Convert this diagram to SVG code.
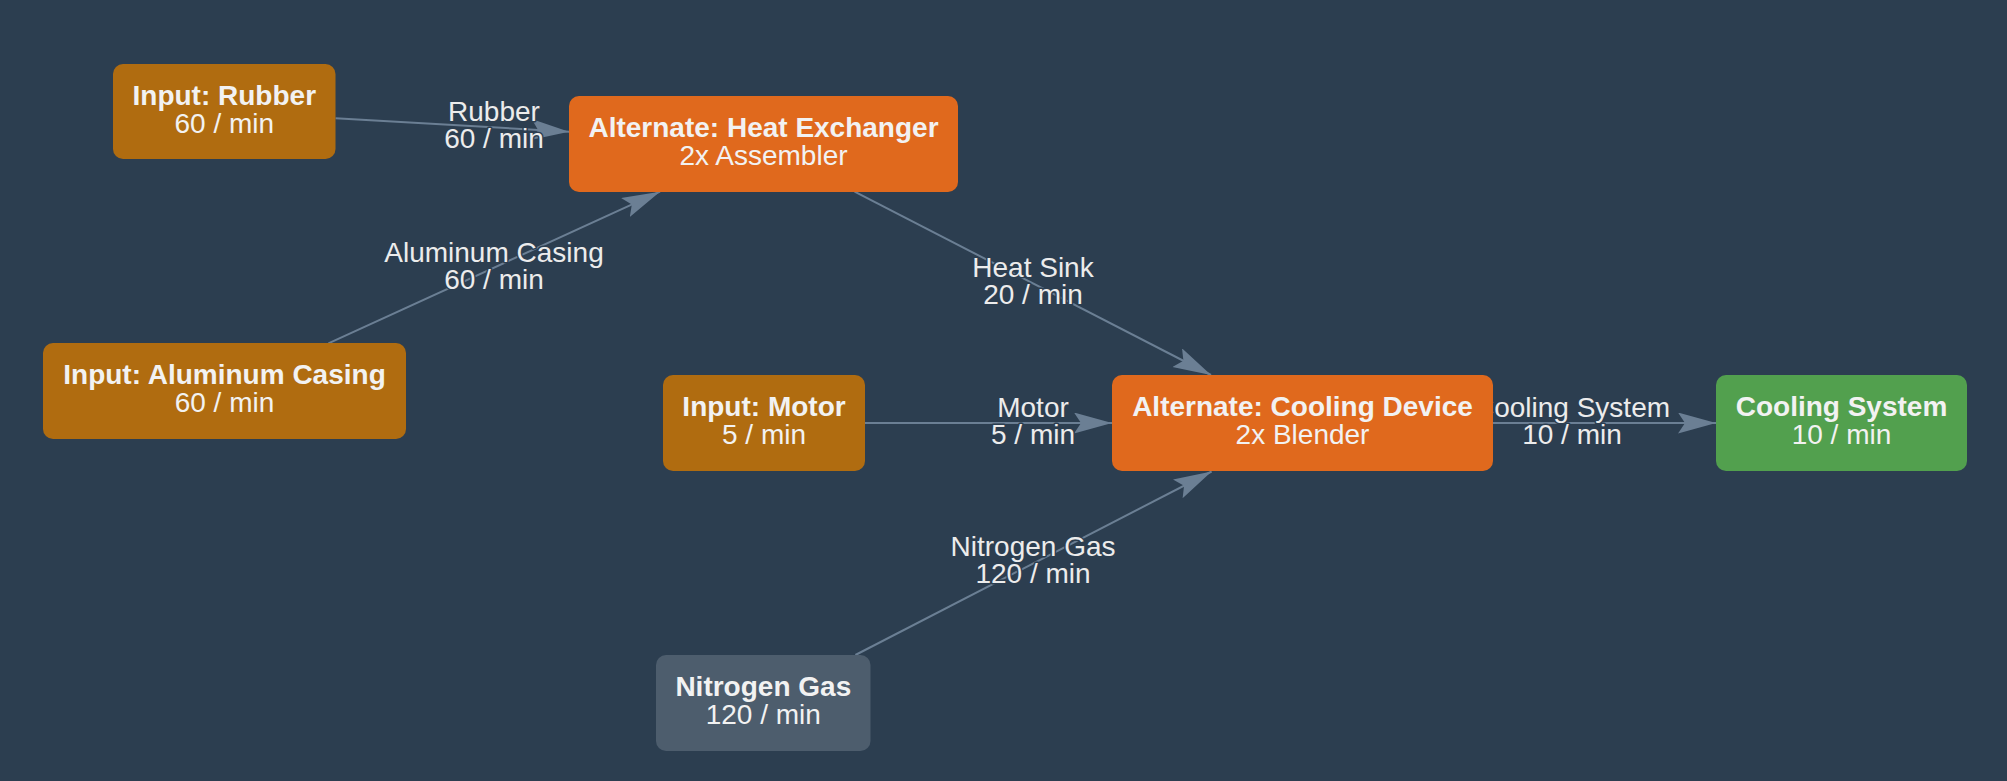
<svg xmlns="http://www.w3.org/2000/svg" width="2007" height="781" viewBox="0 0 2007 781">
<style>
.bg{fill:#2c3e50}
.node rect{stroke:none}
.inp{fill:#b06c10}
.alt{fill:#e0691d}
.out{fill:#52a04e}
.raw{fill:#4d5d6d}
.t1{font-family:"Liberation Sans",Arial,sans-serif;font-size:28px;font-weight:bold;fill:#f2f2f2;text-anchor:middle}
.t2{font-family:"Liberation Sans",Arial,sans-serif;font-size:28px;fill:#f2f2f2;text-anchor:middle}
.edge line{stroke:#6b7f94;stroke-width:2;fill:none}
.el{font-family:"Liberation Sans",Arial,sans-serif;font-size:28px;fill:#ececec;text-anchor:middle;stroke:#2c3e50;stroke-width:3;paint-order:stroke;stroke-linejoin:round}
</style>
<defs>
<marker id="arr" markerUnits="userSpaceOnUse" markerWidth="40" markerHeight="22" refX="38" refY="10.5" orient="auto">
<path d="M0,0 L38,10.5 L0,21 L7,10.5 z" fill="#6b7f94"/>
</marker>
</defs>
<rect class="bg" x="0" y="0" width="2007" height="781"/>
<g id="connectors" class="edge">
<line x1="335.5" y1="118.3" x2="569" y2="131.7" marker-end="url(#arr)"/>
<line x1="328.4" y1="343.3" x2="660" y2="191.7" marker-end="url(#arr)"/>
<line x1="854.6" y1="191.7" x2="1211" y2="375" marker-end="url(#arr)"/>
<line x1="865" y1="423" x2="1112" y2="423" marker-end="url(#arr)"/>
<line x1="855.4" y1="655" x2="1211.6" y2="471.5" marker-end="url(#arr)"/>
<line x1="1493" y1="423" x2="1716" y2="423" marker-end="url(#arr)"/>
<text class="el" x="494" y="121">Rubber</text>
<text class="el" x="494" y="148">60 / min</text>
<text class="el" x="494" y="261.5">Aluminum Casing</text>
<text class="el" x="494" y="288.5">60 / min</text>
<text class="el" x="1033" y="276.5">Heat Sink</text>
<text class="el" x="1033" y="303.5">20 / min</text>
<text class="el" x="1033" y="416.5">Motor</text>
<text class="el" x="1033" y="443.5">5 / min</text>
<text class="el" x="1033" y="556">Nitrogen Gas</text>
<text class="el" x="1033" y="583">120 / min</text>
<text class="el" x="1572" y="416.5">Cooling System</text>
<text class="el" x="1572" y="443.5">10 / min</text>
</g>
<g id="node-rubber" class="node">
<rect class="inp" x="113" y="64" width="222.5" height="95" rx="10"/>
<text class="t1" x="224.3" y="105">Input: Rubber</text>
<text class="t2" x="224.3" y="133">60 / min</text>
</g>
<g id="node-heat-exchanger" class="node">
<rect class="alt" x="569" y="96" width="389" height="96" rx="10"/>
<text class="t1" x="763.5" y="137">Alternate: Heat Exchanger</text>
<text class="t2" x="763.5" y="165">2x Assembler</text>
</g>
<g id="node-aluminum" class="node">
<rect class="inp" x="43" y="343" width="363" height="96" rx="10"/>
<text class="t1" x="224.5" y="384">Input: Aluminum Casing</text>
<text class="t2" x="224.5" y="412">60 / min</text>
</g>
<g id="node-motor" class="node">
<rect class="inp" x="663" y="375" width="202" height="96" rx="10"/>
<text class="t1" x="764" y="416">Input: Motor</text>
<text class="t2" x="764" y="444">5 / min</text>
</g>
<g id="node-nitrogen" class="node">
<rect class="raw" x="656" y="655" width="214.5" height="96" rx="10"/>
<text class="t1" x="763.3" y="696">Nitrogen Gas</text>
<text class="t2" x="763.3" y="724">120 / min</text>
</g>
<g id="node-cooling-device" class="node">
<rect class="alt" x="1112" y="375" width="381" height="96" rx="10"/>
<text class="t1" x="1302.5" y="416">Alternate: Cooling Device</text>
<text class="t2" x="1302.5" y="444">2x Blender</text>
</g>
<g id="node-cooling-system" class="node">
<rect class="out" x="1716" y="375" width="251" height="96" rx="10"/>
<text class="t1" x="1841.5" y="416">Cooling System</text>
<text class="t2" x="1841.5" y="444">10 / min</text>
</g>
</svg>
